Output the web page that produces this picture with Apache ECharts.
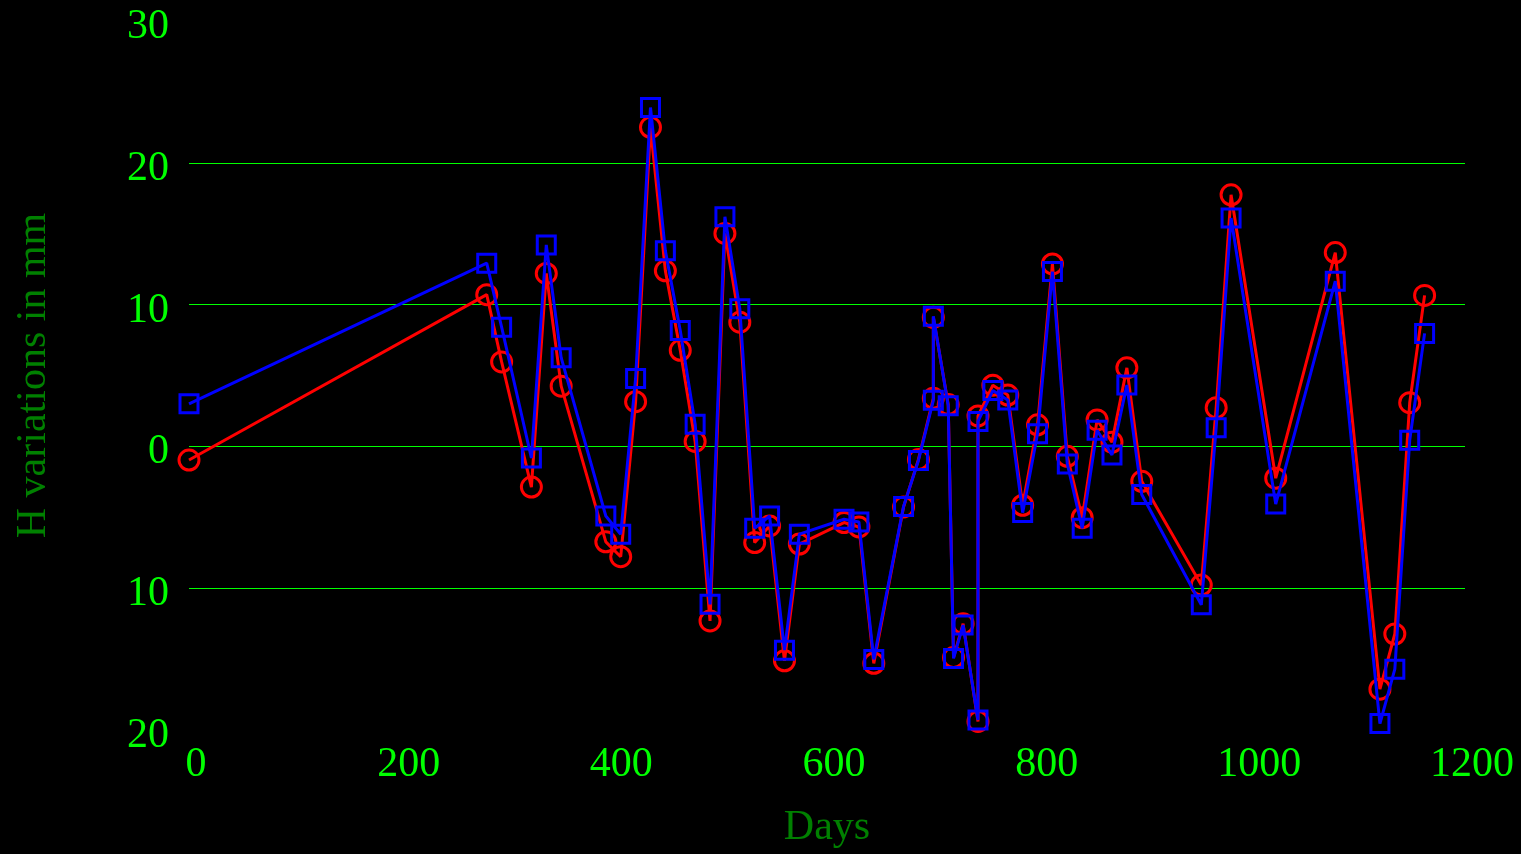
<!DOCTYPE html>
<html>
<head>
<meta charset="utf-8">
<title>H variations</title>
<script src="https://cdn.jsdelivr.net/npm/echarts@6/dist/echarts.min.js"></script>
<style>
  html, body { margin: 0; padding: 0; background: #000; }
  #chart { width: 1521px; height: 854px; }
</style>
</head>
<body>
<div id="chart"></div>
<script>
// Observation days and the two H variation series (mm)
const days = [0, 280, 294, 322, 336, 350, 392, 406, 420, 434, 448, 462, 476, 490, 504, 518, 532, 546, 560, 574, 616, 630, 644, 672, 686, 700, 700, 714, 719, 728, 742, 742, 756, 770, 784, 798, 812, 826, 840, 854, 868, 882, 896, 952, 966, 980, 1022, 1078, 1120, 1134, 1148, 1162];

const redValues = [-0.96, 10.70, 5.96, -2.87, 12.20, 4.25, -6.73, -7.78, 3.15, 22.5, 12.38, 6.78, 0.35, -12.31, 15.02, 8.76, -6.78, -5.61, -15.12, -6.89, -5.37, -5.68, -15.30, -4.27, -0.92, 3.39, 9.10, 2.95, -14.88, -12.5, -19.4, 2.15, 4.32, 3.62, -4.15, 1.52, 12.87, -0.70, -5.03, 1.87, 0.3, 5.54, -2.46, -9.78, 2.73, 17.74, -2.24, 13.67, -17.12, -13.23, 3.08, 10.65];

const blueValues = [3.0, 12.92, 8.41, -0.82, 14.21, 6.26, -4.91, -6.19, 4.79, 23.9, 13.79, 8.18, 1.57, -11.14, 16.19, 9.70, -5.77, -4.91, -14.37, -6.19, -5.14, -5.33, -15.02, -4.23, -0.99, 3.25, 9.18, 2.87, -14.95, -12.6, -19.3, 1.76, 3.94, 3.27, -4.67, 0.89, 12.33, -1.24, -5.78, 1.14, -0.6, 4.33, -3.39, -11.17, 1.32, 16.1, -4.07, 11.65, -19.55, -15.71, 0.43, 7.97];

const xTicks = { min: 0, max: 1200, step: 200 };
const yTicks = { min: -20, max: 30, step: 10 };

const FONT = 'Liberation Serif';
const pairs = vals => days.map((d, i) => [d, vals[i]]);

const chart = echarts.init(document.getElementById('chart'));
chart.setOption({
  backgroundColor: '#000',
  animation: false,
  grid: { left: 189, right: 56, top: 21, bottom: 121, containLabel: false },
  xAxis: {
    type: 'value',
    min: xTicks.min, max: xTicks.max, interval: xTicks.step,
    name: 'Days',
    nameLocation: 'middle',
    nameGap: 77,
    nameTextStyle: { color: '#008000', fontFamily: FONT, fontSize: 42 },
    axisLine: { show: false },
    axisTick: { show: false },
    splitLine: { show: false },
    axisLabel: {
      color: '#00ff00', fontFamily: FONT, fontSize: 42, margin: 14,
      padding: [0, 0, 0, 14],
      showMinLabel: true, showMaxLabel: true,
      formatter: v => String(v)
    }
  },
  yAxis: {
    type: 'value',
    min: yTicks.min, max: yTicks.max, interval: yTicks.step,
    name: 'H variations in mm',
    nameLocation: 'middle',
    nameGap: 134,
    nameTextStyle: { color: '#008000', fontFamily: FONT, fontSize: 42 },
    axisLine: { show: false },
    axisTick: { show: false },
    splitLine: {
      show: true, showMinLine: false, showMaxLine: false,
      lineStyle: { color: '#00ff00', width: 1 }
    },
    axisLabel: {
      color: '#00ff00', fontFamily: FONT, fontSize: 42, margin: 20,
      verticalAlign: 'top', lineHeight: 12,
      showMinLabel: true, showMaxLabel: true,
      formatter: v => String(Math.abs(v))
    }
  },
  series: [
    {
      type: 'line',
      data: pairs(redValues),
      symbol: 'circle',
      symbolSize: 20,
      lineStyle: { color: '#ff0000', width: 3 },
      itemStyle: { color: 'rgba(0,0,0,0)', borderColor: '#ff0000', borderWidth: 3 },
      z: 2
    },
    {
      type: 'line',
      data: pairs(blueValues),
      symbol: 'rect',
      symbolSize: 18,
      lineStyle: { color: '#0000ff', width: 3 },
      itemStyle: { color: 'rgba(0,0,0,0)', borderColor: '#0000ff', borderWidth: 3 },
      z: 3
    }
  ]
});
</script>
</body>
</html>
